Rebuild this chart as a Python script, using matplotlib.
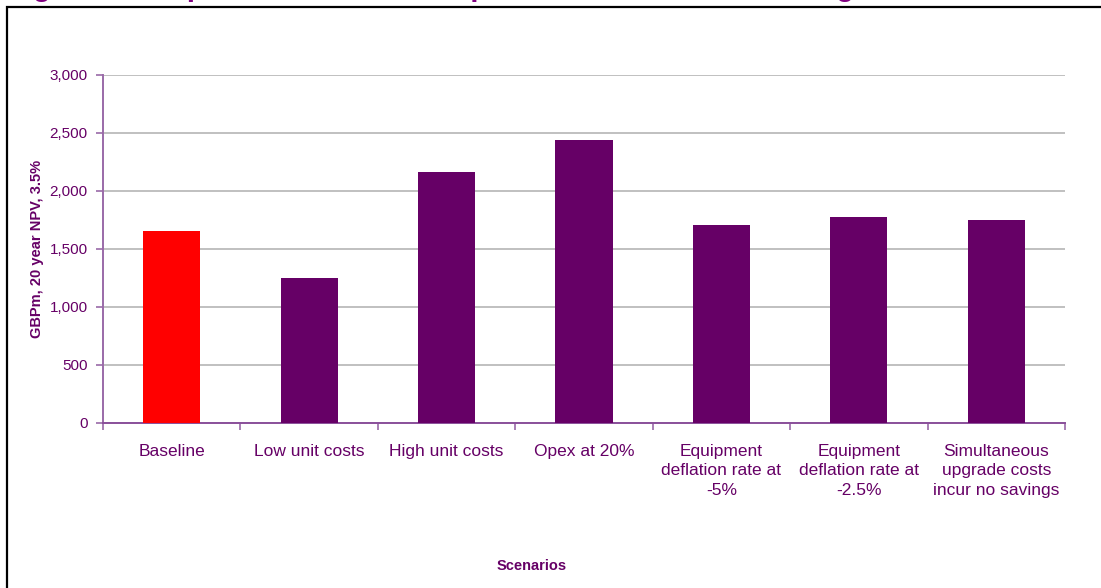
import matplotlib.pyplot as plt
from matplotlib.patches import Rectangle
import numpy as np

plt.rcParams['font.family'] = ['Liberation Sans', 'DejaVu Sans']

scenarios = ['Baseline', 'Low unit costs', 'High unit costs', 'Opex at 20%',
             'Equipment\ndeflation rate at\n-5%',
             'Equipment\ndeflation rate at\n-2.5%',
             'Simultaneous\nupgrade costs\nincur no savings']
npv = [1655, 1252, 2165, 2440, 1708, 1777, 1752]
colours = ['#ff0000'] + ['#660066'] * 6

yticks = [0, 500, 1000, 1500, 2000, 2500, 3000]
txt = '#660066'
axis_col = '#9a6aa8'

W, H = 1101, 588
fig = plt.figure(figsize=(W / 100, H / 100), dpi=100)

# caption above the chart, pushed mostly off the top edge
fig.text(7 / W, 1 + 3.8 / H,
         'Figure 5 \u2013 Impact of alternative inputs to unit costs under high demand',
         fontsize=21, fontweight='bold', color='#800080', va='baseline', ha='left')

# chart area border
fig.patches.append(Rectangle((7 / W, -0.1), 1.2, 1 - 6.5 / H + 0.1,
                             transform=fig.transFigure, fill=False,
                             edgecolor='#000000', linewidth=1.6))

ax = fig.add_axes([103 / W, 1 - 423 / H, (1065 - 103) / W, (423 - 75) / H])

x = np.arange(len(scenarios))
ax.bar(x, npv, width=0.415, color=colours, zorder=3)

ax.set_xlim(-0.5, len(scenarios) - 0.5)
ax.set_ylim(0, 3000)
ax.set_yticks(yticks)
ax.set_yticklabels([f'{v:,}' for v in yticks])
ax.grid(axis='y', color='#c0c0c0', linewidth=1.4, zorder=0)

ax.set_xticks(x)
ax.set_xticklabels(scenarios, linespacing=1.38)
ax.set_xticks(np.arange(-0.5, len(scenarios)), minor=True)
ax.tick_params(axis='x', which='major', length=0, pad=15, labelsize=12.5,
               labelcolor=txt)
ax.tick_params(axis='x', which='minor', length=5, color=axis_col, width=1.2)
ax.tick_params(axis='y', length=5, color=axis_col, width=1.2, labelsize=11,
               labelcolor=txt, pad=6)

for side in ['top', 'right']:
    ax.spines[side].set_visible(False)
ax.spines['left'].set_color(axis_col)
ax.spines['bottom'].set_color('#8a4f9a')
ax.spines['left'].set_linewidth(1.4)
ax.spines['bottom'].set_linewidth(1.4)

fig.text(37 / W, 1 - 249 / H, 'GBPm, 20 year NPV, 3.5%', rotation=90,
         fontsize=10.5, fontweight='bold', color=txt, ha='center', va='center')
fig.text(532 / W, 1 - 566 / H, 'Scenarios', fontsize=10.5, fontweight='bold',
         color=txt, ha='center', va='center')

fig.savefig('out.png', dpi=100, facecolor='white')
